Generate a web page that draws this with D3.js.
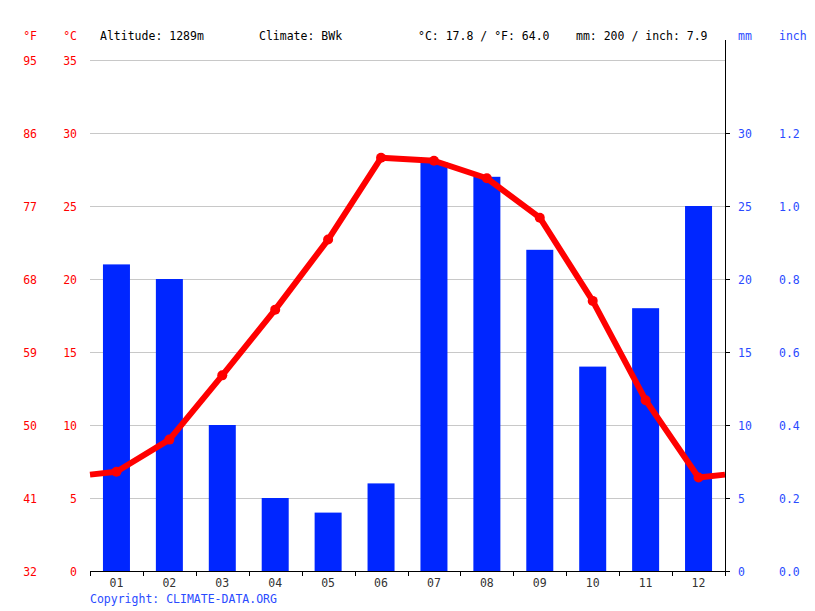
<!DOCTYPE html>
<html><head><meta charset="utf-8">
<script src="https://cdn.jsdelivr.net/npm/d3@7/dist/d3.min.js"></script>
<style>body{margin:0;background:#fff}svg{display:block}text{font-family:"DejaVu Sans Mono",monospace;font-size:11.5px}</style>
</head><body>
<script>
const months = ["01","02","03","04","05","06","07","08","09","10","11","12"];
const precipitation = [21,20,10,5,4,6,28,27,22,14,18,25];
const temperature = [6.8,9.0,13.4,17.9,22.7,28.3,28.1,26.9,24.2,18.5,11.7,6.4];
const celsiusTicks = [0,5,10,15,20,25,30,35];
const fahrenheitTicks = [32,41,50,59,68,77,86,95];
const mmTicks = [0,5,10,15,20,25,30];
const inchTicks = ["0.0","0.2","0.4","0.6","0.8","1.0","1.2"];

const W=815,H=611, L=90, R=725, T=60, B=571;
const svg=d3.select("body").append("svg").attr("width",W).attr("height",H);
const x=d3.scaleBand().domain(months).range([L,R]);
const y=d3.scaleLinear().domain([0,35]).range([B,T]);
const red="#ff0000", blue="#0026ff", lblue="#2a4bff";

// grid
svg.append("g").selectAll("line").data(celsiusTicks.slice(1)).join("line")
 .attr("x1",L).attr("x2",R).attr("y1",d=>y(d)+0.5).attr("y2",d=>y(d)+0.5)
 .attr("stroke","#c8c8c8").attr("stroke-width",1);

// bars
const bw=27;
svg.append("g").selectAll("rect").data(precipitation).join("rect")
 .attr("x",(d,i)=>x(months[i])+x.bandwidth()/2-bw/2).attr("width",bw)
 .attr("y",d=>y(d)).attr("height",d=>B-y(d)).attr("fill",blue);

// temperature line with wrap-around edges
const edge=(temperature[0]+temperature[11])/2;
const pts=[[L,edge]].concat(temperature.map((d,i)=>[x(months[i])+x.bandwidth()/2,d])).concat([[R,edge]]);
svg.append("path").datum(pts).attr("fill","none").attr("stroke",red).attr("stroke-width",6)
 .attr("stroke-linejoin","round")
 .attr("d",d3.line().x(d=>d[0]).y(d=>y(d[1])));
svg.append("g").selectAll("circle").data(temperature).join("circle")
 .attr("cx",(d,i)=>x(months[i])+x.bandwidth()/2).attr("cy",d=>y(d)).attr("r",5).attr("fill",red);

// bottom axis
const bax=svg.append("g");
bax.append("line").attr("x1",L).attr("x2",R+1).attr("y1",B+0.5).attr("y2",B+0.5).attr("stroke","#000");
bax.selectAll("line.t").data(d3.range(13)).join("line").attr("class","t")
 .attr("x1",i=>Math.round(L+i*x.bandwidth())+0.5).attr("x2",i=>Math.round(L+i*x.bandwidth())+0.5)
 .attr("y1",B).attr("y2",B+5).attr("stroke","#000");
bax.selectAll("text").data(months).join("text")
 .attr("x",d=>x(d)+x.bandwidth()/2).attr("y",B+16).attr("text-anchor","middle").attr("fill","#333").text(d=>d);

// right axis
svg.append("line").attr("x1",R+0.5).attr("x2",R+0.5).attr("y1",40).attr("y2",B+5).attr("stroke","#000");
svg.append("g").selectAll("line").data(mmTicks).join("line")
 .attr("x1",R).attr("x2",R+5).attr("y1",d=>y(d)+0.5).attr("y2",d=>y(d)+0.5).attr("stroke","#000");
svg.append("g").selectAll("text").data(mmTicks).join("text")
 .attr("x",738).attr("y",d=>y(d)+5).attr("fill",lblue).text(d=>d);
svg.append("g").selectAll("text").data(inchTicks).join("text")
 .attr("x",779).attr("y",(d,i)=>y(mmTicks[i])+5).attr("fill",lblue).text(d=>d);

// left labels
svg.append("g").selectAll("text").data(celsiusTicks).join("text")
 .attr("x",77).attr("y",d=>y(d)+5).attr("text-anchor","end").attr("fill",red).text(d=>d);
svg.append("g").selectAll("text").data(fahrenheitTicks).join("text")
 .attr("x",37).attr("y",(d,i)=>y(celsiusTicks[i])+5).attr("text-anchor","end").attr("fill",red).text(d=>d);

// header
const hy=40;
svg.append("text").attr("x",37).attr("y",hy).attr("text-anchor","end").attr("fill",red).text("°F");
svg.append("text").attr("x",77).attr("y",hy).attr("text-anchor","end").attr("fill",red).text("°C");
svg.append("text").attr("x",100).attr("y",hy).attr("fill","#000").text("Altitude: 1289m");
svg.append("text").attr("x",259).attr("y",hy).attr("fill","#000").text("Climate: BWk");
svg.append("text").attr("x",418).attr("y",hy).attr("fill","#000").text("°C: 17.8 / °F: 64.0");
svg.append("text").attr("x",576).attr("y",hy).attr("fill","#000").text("mm: 200 / inch: 7.9");
svg.append("text").attr("x",738).attr("y",hy).attr("fill",lblue).text("mm");
svg.append("text").attr("x",779).attr("y",hy).attr("fill",lblue).text("inch");
svg.append("text").attr("x",90).attr("y",603).attr("fill",lblue).text("Copyright: CLIMATE-DATA.ORG");
</script>
</body></html>
